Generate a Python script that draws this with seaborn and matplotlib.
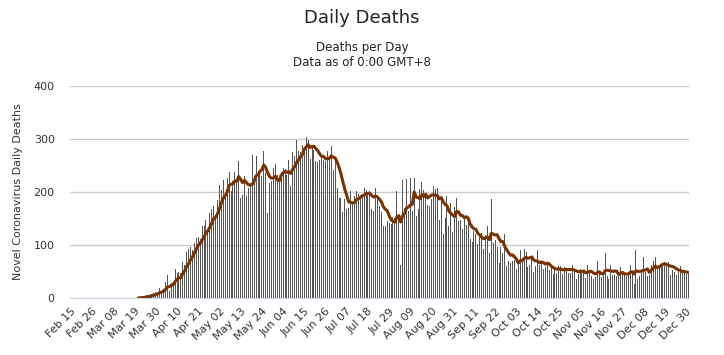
import numpy as np
import pandas as pd
import seaborn as sns
import matplotlib
matplotlib.use("Agg")
from matplotlib import pyplot as plt

# daily deaths, 2020-02-15 .. 2020-12-31
feb = [0] * 15
mar = [0] * 20 + [1, 2, 2, 3, 5, 4, 6, 8, 9, 12, 11]
apr = [19, 13, 17, 31, 44, 14, 28, 28, 55, 48, 50, 48, 67, 63, 86, 92, 96, 90, 104, 113,
       115, 111, 136, 136, 147, 129, 160, 167, 173, 154]
may = [184, 214, 203, 223, 198, 226, 238, 201, 220, 238, 223, 258, 189, 195, 230, 193, 208,
       217, 270, 230, 268, 239, 242, 230, 278, 236, 160, 217, 220, 245, 252]
jun = [233, 217, 237, 245, 243, 233, 260, 211, 275, 267, 299, 277, 275, 289, 283, 304, 299,
       262, 287, 280, 258, 256, 261, 267, 261, 258, 277, 267, 287, 242]
jul = [258, 208, 189, 189, 162, 186, 167, 170, 201, 181, 192, 201, 197, 186, 192, 208, 203,
       195, 201, 168, 165, 208, 192, 174, 162, 136, 136, 145, 142, 140, 153]
aug = [151, 201, 155, 63, 223, 170, 225, 165, 226, 165, 226, 155, 167, 206, 218, 204, 195,
       176, 174, 186, 211, 206, 208, 148, 192, 121, 151, 193, 135, 179, 124]
sep = [172, 189, 145, 148, 131, 151, 138, 153, 111, 106, 126, 120, 101, 115, 123, 92, 118,
       136, 85, 186, 104, 110, 97, 66, 97, 85, 120, 61, 70, 66]
oct_ = [70, 72, 55, 69, 90, 74, 92, 86, 58, 63, 79, 50, 61, 91, 63, 69, 55, 58, 63, 53, 61,
        46, 52, 48, 61, 60, 46, 58, 55, 47, 48]
nov = [63, 53, 36, 46, 55, 50, 53, 38, 63, 48, 41, 36, 40, 70, 48, 39, 44, 84, 42, 36, 63,
       44, 44, 41, 41, 58, 47, 44, 42, 44]
dec = [63, 50, 27, 90, 35, 42, 48, 77, 50, 42, 44, 63, 70, 78, 55, 58, 63, 60, 68, 60, 68,
       44, 53, 50, 43, 50, 60, 48, 47, 46, 45]

deaths = feb + mar + apr + may + jun + jul + aug + sep + oct_ + nov + dec
dates = pd.date_range("2020-02-15", periods=len(deaths), freq="D")
tick_step = 11

df = pd.DataFrame({"day": np.arange(len(deaths)), "deaths": deaths})
first = df["deaths"].gt(0).idxmax()
df["avg"] = df["deaths"].rolling(7, min_periods=1).mean().where(df["day"] >= first)

sns.set_style("white")
plt.rcParams["font.family"] = ["DejaVu Sans"]
text_col = "#333333"

fig = plt.figure(figsize=(7.24, 3.55), dpi=100)
ax = fig.add_axes([70 / 724, 1 - 298 / 355, 619 / 724, 212 / 355])

sns.barplot(data=df, x="day", y="deaths", color="#555555", width=0.52, linewidth=0,
            saturation=1, errorbar=None, ax=ax)
for bar in ax.patches:
    bar.set_antialiased(False)
sns.lineplot(data=df, x="day", y="avg", color="#7a3300", linewidth=2.2, ax=ax)

ax.set_xlim(-0.5, len(deaths) - 0.5)
ax.set_ylim(0, 400)
ax.set_yticks([0, 100, 200, 300, 400])
ax.yaxis.grid(True, color="#cccccc", linewidth=1)
ax.set_axisbelow(True)
ticks = list(range(0, len(deaths), tick_step))
ax.set_xticks(ticks)
ax.set_xticklabels(dates[ticks].strftime("%b %d"), rotation=45, ha="right",
                   rotation_mode="anchor", fontsize=8, color=text_col)
ax.tick_params(axis="y", length=0, pad=11, labelsize=8, labelcolor=text_col)
ax.tick_params(axis="x", length=0, pad=6)
ax.set_xlabel("")
ax.set_ylabel("Novel Coronavirus Daily Deaths", fontsize=8, color=text_col)
ax.yaxis.set_label_coords(-0.076, 0.5)
for side in ["top", "right", "left"]:
    ax.spines[side].set_visible(False)
ax.spines["bottom"].set_color("#ccd6eb")

fig.text(0.5, 1 - 18 / 355, "Daily Deaths", ha="center", va="center", fontsize=13, color="#222222")
fig.text(0.5, 1 - 47 / 355, "Deaths per Day", ha="center", va="center", fontsize=8.5, color="#222222")
fig.text(0.5, 1 - 62 / 355, "Data as of 0:00 GMT+8", ha="center", va="center", fontsize=8.5, color="#222222")

fig.savefig("out.png", dpi=100)
